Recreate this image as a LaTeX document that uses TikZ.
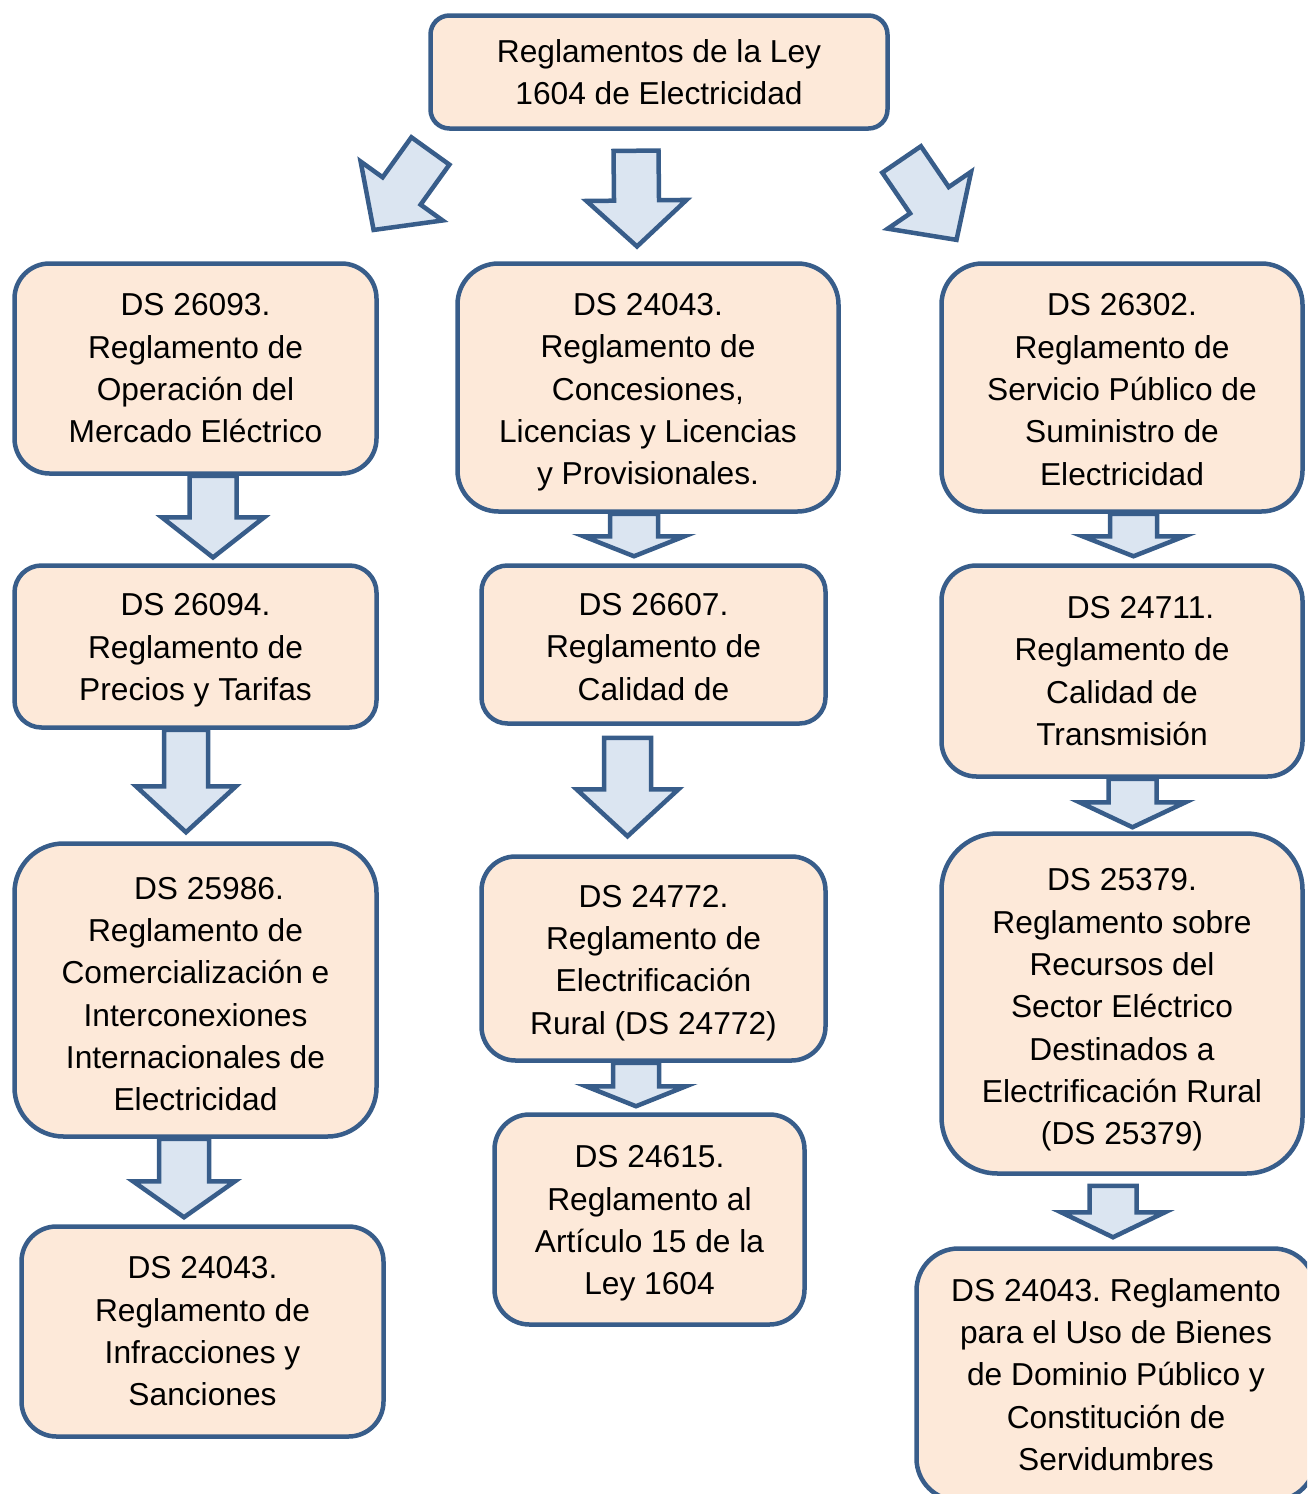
\documentclass[tikz,border=0pt]{standalone}
\usepackage{fontspec}
\setmainfont{Liberation Sans}
\usetikzlibrary{calc}
\frenchspacing

\definecolor{boxline}{RGB}{56,93,138}
\definecolor{boxfill}{RGB}{253,233,217}
\definecolor{arrowfill}{RGB}{219,229,241}

\tikzset{
  regbox/.style={draw=boxline, fill=boxfill, line width=4.5pt, inner sep=0pt},
  regtext/.style={inner sep=0pt, align=center, font=\fontsize{31.7}{42.3}\selectfont},
  barrow/.style={draw=boxline, fill=arrowfill, line width=4.5pt, line join=miter},
}

% block arrow: tail, tip, shaft half-width, wing half-width, head length
\newcommand\blockarrow[5]{%
  \coordinate (bh) at ($(#2)!#5pt!(#1)$);
  \draw[barrow] ($(#1)!#3pt!90:(#2)$) -- ($(bh)!#3pt!90:(#2)$)
    -- ($(bh)!#4pt!90:(#2)$) -- (#2) -- ($(bh)!#4pt!-90:(#2)$)
    -- ($(bh)!#3pt!-90:(#2)$) -- ($(#1)!#3pt!-90:(#2)$) -- cycle;}

\begin{document}
\begin{tikzpicture}[x=1pt,y=1pt]
\useasboundingbox (0,0) rectangle (1307,-1494);
\clip (0,0) rectangle (1307,-1494);

% boxes
\node[regbox, minimum width=457, minimum height=113, rounded corners=19] (T)  at (659,-72) {};
\node[regbox, minimum width=362, minimum height=210, rounded corners=35] (L1) at (195.5,-368.5) {};
\node[regbox, minimum width=362, minimum height=162, rounded corners=27] (L2) at (195.5,-646.5) {};
\node[regbox, minimum width=362, minimum height=293, rounded corners=49] (L3) at (195.5,-990) {};
\node[regbox, minimum width=362, minimum height=210, rounded corners=35] (L4) at (202.5,-1331.5) {};
\node[regbox, minimum width=381, minimum height=248, rounded corners=41] (M1) at (648,-387.5) {};
\node[regbox, minimum width=344, minimum height=158, rounded corners=26] (M2) at (653.5,-644.5) {};
\node[regbox, minimum width=344, minimum height=204, rounded corners=34] (M3) at (653.5,-958.5) {};
\node[regbox, minimum width=310, minimum height=210, rounded corners=35] (M4) at (649.5,-1219.5) {};
\node[regbox, minimum width=361, minimum height=248, rounded corners=41] (R1) at (1122,-387.5) {};
\node[regbox, minimum width=361, minimum height=211, rounded corners=35] (R2) at (1122,-671) {};
\node[regbox, minimum width=361, minimum height=340, rounded corners=56] (R3) at (1122,-1003.5) {};
\node[regbox, minimum width=399, minimum height=252, rounded corners=42] (R4) at (1116,-1374.5) {};

% box texts
\node[regtext] (Tt)  at (T.center) {Reglamentos de la Ley\\1604 de Electricidad};
\node[regtext] (L1t) at (L1.center) {DS 26093.\\Reglamento de\\Operación del\\Mercado Eléctrico};
\node[regtext] (L2t) at ($(L2.center)+(0,-4)$) {DS 26094.\\Reglamento de\\Precios y Tarifas};
\node[regtext] (L3t) at ($(L3.center)+(0,-4)$)
  {\hspace*{27pt}DS 25986.\\Reglamento de\\Comercialización e\\Interconexiones\\Internacionales de\\Electricidad};
\node[regtext] (L4t) at (L4.center) {DS 24043.\\Reglamento de\\Infracciones y\\Sanciones};
\node[regtext] (M1t) at ($(M1.center)+(0,-5)$)
  {DS 24043.\\Reglamento de\\Concesiones,\\Licencias y Licencias\\y Provisionales.};
\node[regtext] (M2t) at ($(M2.center)+(0,-2.5)$) {DS 26607.\\Reglamento de\\Calidad de};
\node[regtext] (M3t) at ($(M3.center)+(0,-4.5)$)
  {DS 24772.\\Reglamento de\\Electrificación\\Rural (DS 24772)};
\node[regtext] (M4t) at ($(M4.center)+(0,-4)$) {DS 24615.\\Reglamento al\\Artículo 15 de la\\Ley 1604};
\node[regtext] (R1t) at ($(R1.center)+(0,-2)$)
  {DS 26302.\\Reglamento de\\Servicio Público de\\Suministro de\\Electricidad};
\node[regtext] (R2t) at (R2.center) {\hspace*{37pt}DS 24711.\\Reglamento de\\Calidad de\\Transmisión};
\node[regtext] (R3t) at ($(R3.center)+(0,-6.5)$)
  {DS 25379.\\Reglamento sobre\\Recursos del\\Sector Eléctrico\\Destinados a\\Electrificación Rural\\(DS 25379)};
\node[regtext] (R4t) at (R4.center)
  {DS 24043. Reglamento\\para el Uso de Bienes\\de Dominio Público y\\Constitución de\\Servidumbres};

% arrow end points
\coordinate (tT)  at ($(T.south)+(-23,-20)$);
\coordinate (hT)  at ($(M1.north)+(-11,14.8)$);
\coordinate (tTL) at ($(T.south)+(-228.6,-20.2)$);
\coordinate (hTL) at ($(L1.north)+(178.1,31.3)$);
\coordinate (tTR) at ($(T.south)+(242.6,-28.7)$);
\coordinate (hTR) at ($(R1.north)+(-165.5,21.4)$);

\coordinate (tL12) at ($(L1.south)+(17.5,0)$);
\coordinate (hL12) at ($(L2.north)+(17.5,5.8)$);
\coordinate (tL23) at ($(L2.south)+(-9.5,0)$);
\coordinate (hL23) at ($(L3.north)+(-9.5,9)$);
\coordinate (tL34) at ($(L3.south)+(-11.5,0)$);
\coordinate (hL34) at ($(L4.north)+(-18.5,7)$);

\coordinate (tM12) at ($(M1.south)+(-14,0)$);
\coordinate (hM12) at ($(M2.north)+(-19.5,7)$);
\coordinate (tM23) at ($(M2.south)+(-26,-12)$);
\coordinate (hM23) at ($(M3.north)+(-26,18)$);
\coordinate (tM34) at ($(M3.south)+(-17.5,0)$);
\coordinate (hM34) at ($(M4.north)+(-13.5,6)$);

\coordinate (tR12) at ($(R1.south)+(11.5,0)$);
\coordinate (hR12) at ($(R2.north)+(11.5,7)$);
\coordinate (tR23) at ($(R2.south)+(10.5,0)$);
\coordinate (hR23) at ($(R3.north)+(10.5,4)$);
\coordinate (tR34) at ($(R3.south)+(-9,-10)$);
\coordinate (hR34) at ($(R4.north)+(-3,9)$);

% block arrows
\blockarrow{tT}{hT}{22.5}{50}{46}
\blockarrow{tTL}{hTL}{23.4}{50.5}{48}
\blockarrow{tTR}{hTR}{23.4}{50.5}{48}

\blockarrow{tL12}{hL12}{23.5}{51}{40}
\blockarrow{tL23}{hL23}{22}{50}{46}
\blockarrow{tL34}{hL34}{25}{51}{36}

\blockarrow{tM12}{hM12}{24}{50.5}{20}
\blockarrow{tM23}{hM23}{23.5}{51}{47}
\blockarrow{tM34}{hM34}{23}{50}{20}

\blockarrow{tR12}{hR12}{23.5}{51}{20}
\blockarrow{tR23}{hR23}{24}{53}{25}
\blockarrow{tR34}{hR34}{23.5}{52}{25}
\end{tikzpicture}
\end{document}
